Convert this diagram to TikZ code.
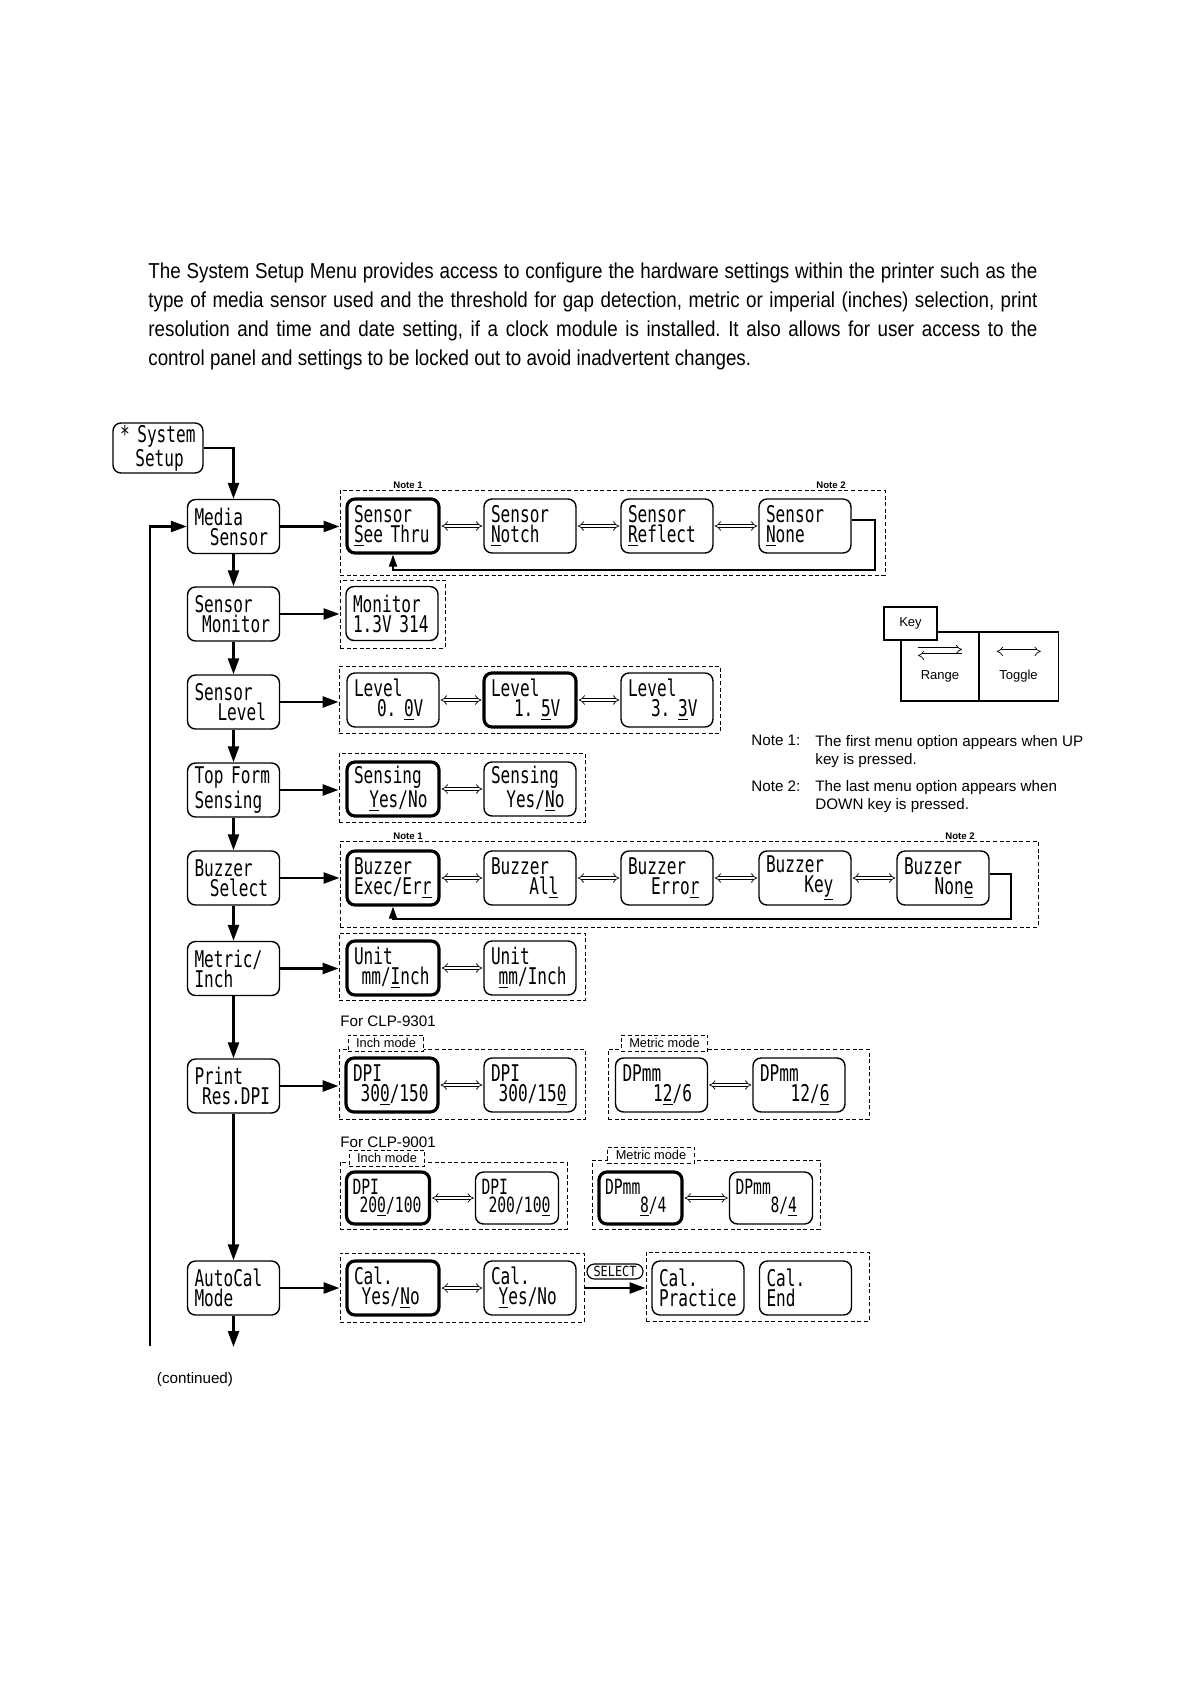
\documentclass[tikz,border=0pt]{standalone}
\usepackage{fontspec}
\setmainfont{Liberation Sans}
\newfontfamily\bodyfont[FakeStretch=0.87]{Liberation Sans}
\newfontfamily\lcdfont[FakeStretch=0.70]{DejaVu Sans Mono}
\newfontfamily\selfont[FakeStretch=0.85]{DejaVu Sans Mono}
\usetikzlibrary{arrows.meta}
\newcommand\lcd[2]{\mbox{#1}\\\mbox{#2}}
\frenchspacing

\begin{document}
\begin{tikzpicture}[x=0.5pt,y=-0.5pt,
  lcd/.style={draw, rounded corners=4pt, line width=0.7pt, text width=39pt,
    inner xsep=3.5pt, inner ysep=0pt, minimum height=27pt, align=left,
    font=\lcdfont\fontsize{11.5}{10}\selectfont},
  cur/.style={lcd, line width=1.6pt},
  small/.style={text width=35.5pt, inner xsep=3pt, minimum height=26pt,
    font=\lcdfont\fontsize{10.5}{9.2}\selectfont},
  grp/.style={draw, dash pattern=on 2pt off 1.3pt, line width=0.5pt, inner sep=0pt},
  modelabel/.style={grp, fill=white, inner xsep=4pt, minimum height=8pt,
    font=\fontsize{6.4}{7}\selectfont},
  notelabel/.style={anchor=south, inner sep=0.6pt, font=\fontsize{4.8}{5}\selectfont\bfseries},
  flow/.style={line width=1.3pt, -{Triangle[length=8pt,width=5.5pt]}},
  back/.style={line width=1pt, -{Triangle[length=6pt,width=4pt]}},
  tog/.style={double distance=1.3pt, line width=0.35pt, {Implies}-{Implies},
    shorten <=0.5pt, shorten >=0.5pt},
  keycell/.style={draw, line width=0.6pt, minimum height=34.5pt, inner sep=0pt},
  keytext/.style={inner sep=0pt, font=\fontsize{6.5}{7}\selectfont},
  plain/.style={inner sep=0pt, font=\fontsize{7.6}{9}\selectfont, align=left}
]
\useasboundingbox (0,0) rectangle (1191,1685);

\node[anchor=north west, inner sep=0pt, text width=444.5pt, align=justify,
  font=\bodyfont\fontsize{10.8}{14.5}\selectfont] (intro) at (148,262)
  {The System Setup Menu provides access to configure the hardware settings within the printer such as the\linebreak
  type of media sensor used and the threshold for gap detection, metric or imperial (inches) selection, print\linebreak
  resolution and time and date setting, if a clock module is installed. It also allows for user access to the\linebreak
  control panel and settings to be locked out to avoid inadvertent changes.};

% main column
\node[lcd, text width=38pt, minimum height=25pt] (sys) at (158,448) {\lcd{*~System}{~~Setup}};
\node[lcd] (media) at (233.5,526.5) {\lcd{Media}{~~Sensor}};
\node[lcd] (smon) at (233.5,614) {\lcd{Sensor}{~Monitor}};
\node[lcd] (slev) at (233.5,702) {\lcd{Sensor}{~~~Level}};
\node[lcd] (tops) at (233.5,790) {\lcd{Top~Form}{Sensing}};
\node[lcd] (buzz) at (233.5,878) {\lcd{Buzzer}{~~Select}};
\node[lcd] (metr) at (233.5,968.5) {\lcd{Metric/}{Inch}};
\node[lcd] (res) at (233.5,1086) {\lcd{Print}{~Res.DPI}};
\node[lcd] (acal) at (233.5,1288) {\lcd{AutoCal}{Mode}};
\coordinate (loopend) at (150,1346);
\coordinate (cont) at (233.5,1347);
\node[plain] (contd) at (195,1380) {(continued)};

% option groups
\node[grp, minimum width=272.5pt, minimum height=42.5pt] (gsens) at (612.5,532.5) {};
\node[grp, minimum width=52.5pt, minimum height=34pt] (gmon) at (392.5,614) {};
\node[grp, minimum width=190.5pt, minimum height=33.5pt] (glev) at (529.5,699.5) {};
\node[grp, minimum width=123pt, minimum height=34.5pt] (gtop) at (462,787.5) {};
\node[grp, minimum width=349pt, minimum height=43pt] (gbuz) at (689,884) {};
\node[grp, minimum width=123pt, minimum height=33.5pt] (gunit) at (462,966.5) {};
\node[grp, minimum width=123pt, minimum height=35pt] (gdpi) at (462,1084) {};
\node[grp, minimum width=130.5pt, minimum height=35pt] (gdpmm) at (738.5,1084) {};
\node[grp, minimum width=113.5pt, minimum height=33.5pt] (gdpis) at (453.5,1195.5) {};
\node[grp, minimum width=114pt, minimum height=34.5pt] (gdpmms) at (706,1194.5) {};
\node[grp, minimum width=122pt, minimum height=34.5pt] (gcal) at (462,1287.5) {};
\node[grp, minimum width=111.5pt, minimum height=34.5pt] (gcalrun) at (757.5,1286.5) {};

\node[notelabel] (nsa) at (408,490) {Note 1};
\node[notelabel] (nsb) at (831,490) {Note 2};
\node[notelabel] (nba) at (408,841) {Note 1};
\node[notelabel] (nbb) at (960,841) {Note 2};

\node[cur] (sthru) at (393,526) {\lcd{Sensor}{\underline{S}ee~Thru}};
\node[lcd] (snotch) at (530,526) {\lcd{Sensor}{\underline{N}otch}};
\node[lcd] (srefl) at (667,526) {\lcd{Sensor}{\underline{R}eflect}};
\node[lcd] (snone) at (805,526) {\lcd{Sensor}{\underline{N}one}};

\node[lcd] (mon) at (392,613.5) {\lcd{Monitor}{1.3V~314}};

\node[lcd] (lev0) at (393,700) {\lcd{Level}{~~~0.~\underline{0}V}};
\node[cur] (lev15) at (530,700) {\lcd{Level}{~~~1.~\underline{5}V}};
\node[lcd] (lev33) at (667,700) {\lcd{Level}{~~~3.~\underline{3}V}};

\node[cur] (syes) at (393,789) {\lcd{Sensing}{~~\underline{Y}es/No}};
\node[lcd] (sno) at (530,789) {\lcd{Sensing}{~~Yes/\underline{N}o}};

\node[cur] (bexec) at (393,878) {\lcd{Buzzer}{Exec/Er\underline{r}}};
\node[lcd] (ball) at (530,878) {\lcd{Buzzer}{~~~~~Al\underline{l}}};
\node[lcd] (berr) at (667,878) {\lcd{Buzzer}{~~~Erro\underline{r}}};
\node[lcd] (bkey) at (805,878) {\lcd{Buzzer}{~~~~~Ke\underline{y}}};
\node[lcd] (bnone) at (943,878) {\lcd{Buzzer}{~~~~Non\underline{e}}};

\node[cur] (uinch) at (393,968) {\lcd{Unit}{~mm/\underline{I}nch}};
\node[lcd] (umm) at (530,968) {\lcd{Unit}{~\underline{m}m/Inch}};

\node[plain, anchor=base west] (clpa) at (340,1026) {For CLP-9301};
\node[modelabel] (inchA) at (386,1043) {Inch mode};
\node[modelabel] (metA) at (664.5,1043) {Metric mode};
\node[cur] (dpi1) at (392,1085) {\lcd{DPI}{~30\underline{0}/150}};
\node[lcd] (dpi2) at (530,1085) {\lcd{DPI}{~300/15\underline{0}}};
\node[lcd] (dpmm1) at (661.5,1085) {\lcd{DPmm}{~~~~1\underline{2}/6}};
\node[lcd] (dpmm2) at (799,1085) {\lcd{DPmm}{~~~~12/\underline{6}}};

\node[plain, anchor=base west] (clpb) at (340,1147) {For CLP-9001};
\node[modelabel] (inchB) at (387,1158) {Inch mode};
\node[modelabel] (metB) at (651,1155) {Metric mode};
\node[cur, small] (dpi3) at (388,1198) {\lcd{DPI}{~20\underline{0}/100}};
\node[lcd, small] (dpi4) at (517,1198) {\lcd{DPI}{~200/10\underline{0}}};
\node[cur, small] (dpmm3) at (640.5,1198) {\lcd{DPmm}{~~~~~\underline{8}/4}};
\node[lcd, small] (dpmm4) at (771,1198) {\lcd{DPmm}{~~~~~8/\underline{4}}};

\node[cur] (cal1) at (393,1288) {\lcd{Cal.}{~Yes/\underline{N}o}};
\node[lcd] (cal2) at (530,1288) {\lcd{Cal.}{~\underline{Y}es/No}};
\node[draw, line width=0.6pt, rounded corners=3.7pt, minimum width=28pt, minimum height=7.5pt,
  inner sep=0pt, font=\selfont\fontsize{7}{7}\selectfont] (select) at (615,1271.5) {SELECT};
\node[lcd] (calp) at (698,1288) {\lcd{Cal.}{Practice}};
\node[lcd] (cale) at (805.5,1288) {\lcd{Cal.}{End}};

% key and notes
\node[keycell, minimum width=39pt] (krange) at (940,666.5) {};
\node[keycell, minimum width=39.5pt] (ktoggle) at (1018.75,666.5) {};
\node[draw, fill=white, line width=0.6pt, minimum width=26.5pt, minimum height=16.5pt,
  inner sep=0pt, font=\fontsize{6.5}{7}\selectfont] (key) at (910.5,623.5) {Key};
\node[keytext] (trange) at (940,676) {Range};
\node[keytext] (ttoggle) at (1018.5,676) {Toggle};
\draw[tog, -{Implies}] ([shift={(-23,18)}]krange.north) -- ++(46,0);
\draw[tog, {Implies}-] ([shift={(-23,24)}]krange.north) -- ++(46,0);
\draw[tog] ([shift={(-23,20)}]ktoggle.north) -- ++(46,0);

\node[plain, anchor=north west] (note1) at (751,735) {Note 1:};
\node[plain, anchor=north west] (note1txt) at (815,735) {The first menu option appears when UP\\key is pressed.};
\node[plain, anchor=north west] (note2) at (751,780) {Note 2:};
\node[plain, anchor=north west] (note2txt) at (815,780) {The last menu option appears when\\DOWN key is pressed.};

% connectors
\draw[flow] (sys.east) -| (media.north);
\draw[flow] (loopend) |- (media.west);
\foreach \a/\b in {media/smon, smon/slev, slev/tops, tops/buzz, buzz/metr, metr/res, res/acal}
  \draw[flow] (\a) -- (\b);
\draw[flow] (acal) -- (cont);
\foreach \a/\b in {media/gsens, smon/gmon, slev/glev, tops/gtop, buzz/gbuz, metr/gunit, res/gdpi, acal/gcal}
  \draw[flow] (\a.east) -- (\a.east -| \b.west);
\draw[flow] (gcal.east |- cal2) -- (gcalrun.west |- cal2);

\foreach \a/\b in {sthru/snotch, snotch/srefl, srefl/snone, lev0/lev15, lev15/lev33, syes/sno,
  bexec/ball, ball/berr, berr/bkey, bkey/bnone, uinch/umm, dpi1/dpi2, dpmm1/dpmm2,
  dpi3/dpi4, dpmm3/dpmm4, cal1/cal2}
  \draw[tog] (\a) -- (\b);

\draw[back] 
([yshift=3pt]snone.east) -- ++(11.5pt,0) -- ++(0,-25pt)
-| (sthru.south)
;
\draw[back] 
([yshift=2pt]bnone.east) -- ++(10.5pt,0) -- ++(0,-22.5pt)
-| (bexec.south)
;

\end{tikzpicture}
\end{document}
